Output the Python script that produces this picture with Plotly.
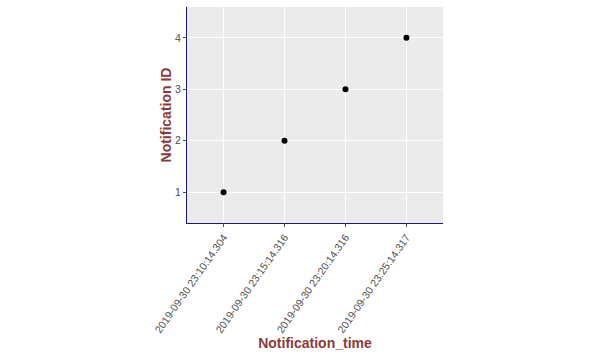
import plotly.graph_objects as go

notification_time = [
    "2019-09-30 23:10:14.304",
    "2019-09-30 23:15:14.316",
    "2019-09-30 23:20:14.316",
    "2019-09-30 23:25:14.317",
]
notification_id = [1, 2, 3, 4]

fig = go.Figure()
fig.add_trace(go.Scatter(
    x=notification_time, y=notification_id, mode="markers",
    marker=dict(color="black", size=6),
))

font_family = "Liberation Sans, Arial, sans-serif"
title_color = "#8B3A3A"

fig.update_layout(
    width=600, height=361,
    margin=dict(l=187, r=157, t=7, b=138),
    paper_bgcolor="white",
    plot_bgcolor="#EBEBEB",
    showlegend=False,
    font=dict(family=font_family),
)
fig.update_xaxes(
    type="category",
    range=[-0.6, 3.6],
    tickangle=-55,
    automargin=False,
    tickfont=dict(size=10.5, color="#4D4D4D"),
    showgrid=True, gridcolor="white", gridwidth=1,
    showline=True, linecolor="#1A1A6E", linewidth=1,
    ticks="outside", ticklen=3, tickcolor="#4D4D4D",
    zeroline=False,
    title=dict(text="<b>Notification_time</b>", font=dict(size=14, color=title_color), standoff=2),
)
fig.update_yaxes(
    range=[0.4, 4.6],
    tickvals=[1, 2, 3, 4],
    automargin=False,
    tickfont=dict(size=10.5, color="#4D4D4D"),
    showgrid=True, gridcolor="white", gridwidth=1,
    showline=True, linecolor="#1A1A6E", linewidth=1,
    ticks="outside", ticklen=3, tickcolor="#4D4D4D",
    zeroline=False,
    title=dict(text="<b>Notification ID</b>", font=dict(size=14, color=title_color), standoff=0),
)

fig.write_html("out.html", config={"displayModeBar": False},
               post_script="document.body.style.margin='0';")
